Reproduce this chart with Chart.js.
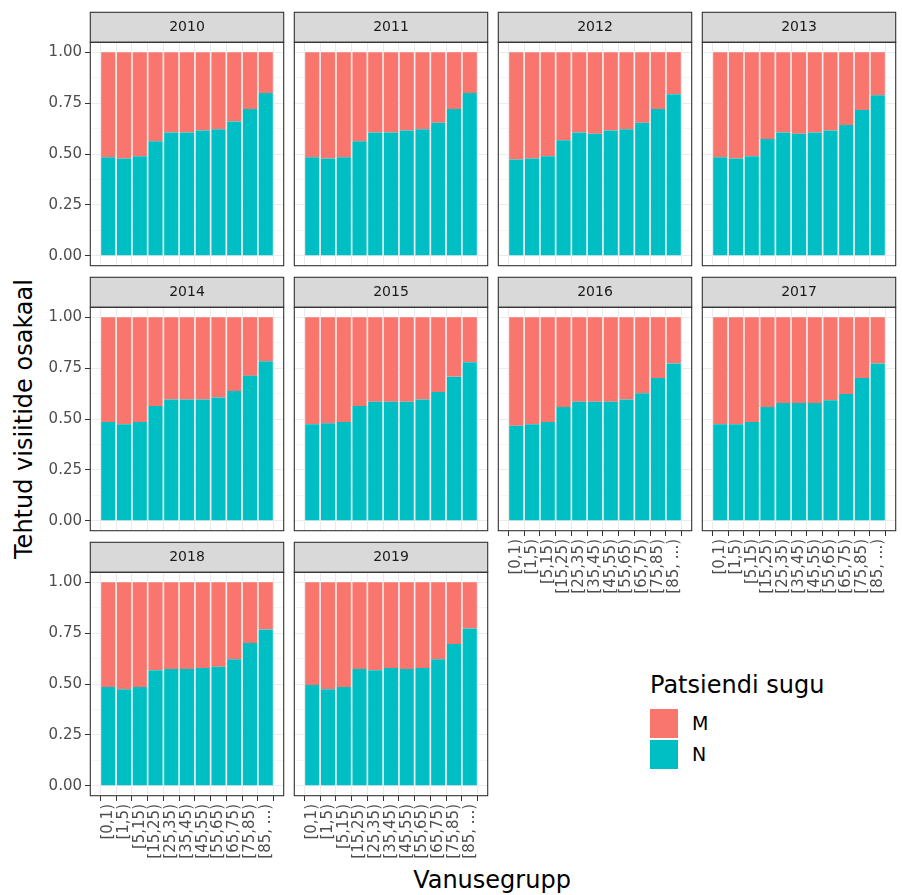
<!DOCTYPE html>
<html>
<head>
<meta charset="utf-8">
<title>Tehtud visiitide osakaal</title>
<script src="https://cdn.jsdelivr.net/npm/chart.js@4.4.1/dist/chart.umd.min.js"></script>
<style>
  html, body { margin: 0; padding: 0; background: #fff; overflow: hidden; width: 902px; height: 895px; }
  body { position: relative; font-family: "DejaVu Sans", sans-serif; }
  canvas { position: absolute; }
  .txt { position: absolute; white-space: nowrap; line-height: 1; color: #000; }
  .key { position: absolute; width: 28px; height: 29px; }
</style>
</head>
<body>
<div class="txt" id="ytitle" style="left:24px; top:419px; font-size:24px; transform: translate(-50%, -50%) rotate(-90deg);">Tehtud visiitide osakaal</div>
<div class="txt" id="xtitle" style="left:492px; top:868px; font-size:24px; transform: translateX(-50%);">Vanusegrupp</div>
<div class="txt" style="left:650px; top:673px; font-size:24px;">Patsiendi sugu</div>
<div class="key" style="left:650px; top:709px; background:#F8766D;"></div>
<div class="key" style="left:650px; top:740px; background:#00BFC4;"></div>
<div class="txt" style="left:692px; top:714px; font-size:19px;">M</div>
<div class="txt" style="left:692px; top:745px; font-size:19px;">N</div>

<script>
// Age groups on the x axis and the facet years
const ageGroups = ['[0,1)', '[1,5)', '[5,15)', '[15,25)', '[25,35)', '[35,45)',
                   '[45,55)', '[55,65)', '[65,75)', '[75,85)', '[85, ...)'];
const years = ['2010', '2011', '2012', '2013', '2014', '2015', '2016', '2017', '2018', '2019'];
const yTicks = [0, 0.25, 0.5, 0.75, 1];

// Share of visits by patient sex (N = naised, M = mehed), per age group
const n2010 = [0.484, 0.478, 0.489, 0.563, 0.605, 0.605, 0.615, 0.622, 0.659, 0.721, 0.799];
const m2010 = [0.516, 0.522, 0.511, 0.437, 0.395, 0.395, 0.385, 0.378, 0.341, 0.279, 0.201];
const n2011 = [0.484, 0.478, 0.484, 0.563, 0.605, 0.605, 0.615, 0.622, 0.653, 0.721, 0.799];
const m2011 = [0.516, 0.522, 0.516, 0.437, 0.395, 0.395, 0.385, 0.378, 0.347, 0.279, 0.201];
const n2012 = [0.473, 0.478, 0.489, 0.568, 0.605, 0.600, 0.615, 0.622, 0.653, 0.721, 0.794];
const m2012 = [0.527, 0.522, 0.511, 0.432, 0.395, 0.400, 0.385, 0.378, 0.347, 0.279, 0.206];
const n2013 = [0.484, 0.478, 0.489, 0.574, 0.605, 0.600, 0.605, 0.615, 0.643, 0.716, 0.788];
const m2013 = [0.516, 0.522, 0.511, 0.426, 0.395, 0.400, 0.395, 0.385, 0.357, 0.284, 0.212];
const n2014 = [0.485, 0.474, 0.485, 0.564, 0.596, 0.596, 0.596, 0.606, 0.637, 0.712, 0.784];
const m2014 = [0.515, 0.526, 0.515, 0.436, 0.404, 0.404, 0.404, 0.394, 0.363, 0.288, 0.216];
const n2015 = [0.474, 0.479, 0.485, 0.564, 0.585, 0.585, 0.585, 0.596, 0.632, 0.708, 0.779];
const m2015 = [0.526, 0.521, 0.515, 0.436, 0.415, 0.415, 0.415, 0.404, 0.368, 0.292, 0.221];
const n2016 = [0.467, 0.474, 0.485, 0.559, 0.585, 0.585, 0.585, 0.596, 0.626, 0.701, 0.773];
const m2016 = [0.533, 0.526, 0.515, 0.441, 0.415, 0.415, 0.415, 0.404, 0.374, 0.299, 0.227];
const n2017 = [0.474, 0.474, 0.485, 0.559, 0.578, 0.578, 0.578, 0.592, 0.623, 0.701, 0.773];
const m2017 = [0.526, 0.526, 0.515, 0.441, 0.422, 0.422, 0.422, 0.408, 0.377, 0.299, 0.227];
const n2018 = [0.485, 0.474, 0.485, 0.567, 0.574, 0.574, 0.578, 0.585, 0.621, 0.701, 0.768];
const m2018 = [0.515, 0.526, 0.515, 0.433, 0.426, 0.426, 0.422, 0.415, 0.379, 0.299, 0.232];
const n2019 = [0.495, 0.474, 0.485, 0.574, 0.567, 0.578, 0.574, 0.578, 0.621, 0.696, 0.773];
const m2019 = [0.505, 0.526, 0.515, 0.426, 0.433, 0.422, 0.426, 0.422, 0.379, 0.304, 0.227];

const shareN = [n2010, n2011, n2012, n2013, n2014, n2015, n2016, n2017, n2018, n2019];
const shareM = [m2010, m2011, m2012, m2013, m2014, m2015, m2016, m2017, m2018, m2019];

const COLOR_M = '#F8766D';
const COLOR_N = '#00BFC4';
const FONT = '"DejaVu Sans", sans-serif';

// Facet grid geometry
const NCOL = 4;
const COL_X = 90, COL_STEP = 204;
const ROW_Y = 12, ROW_STEP = 265;
const PANEL_W = 194, PANEL_H = 224, STRIP_H = 30;
const Y_AXIS_W = 90, X_AXIS_H = 68;
const PAD = 6, PAD_R = 16, PAD_B = 14;

Chart.defaults.font.family = FONT;

// minor grid lines sit half-way between the major y ticks
const yMinor = yTicks.slice(1).map((v, i) => (v + yTicks[i]) / 2);
const yAll = yTicks.concat(yMinor).sort((a, b) => a - b);
const isMajor = v => yTicks.includes(v);

// strip background, panel background and borders
const facetFrame = {
  id: 'facetFrame',
  beforeDraw(chart) {
    const { ctx, chartArea: a } = chart;
    const tb = chart.titleBlock;
    ctx.save();
    ctx.fillStyle = '#FFFFFF';
    ctx.fillRect(a.left, a.top, a.right - a.left, a.bottom - a.top);
    ctx.fillStyle = '#D9D9D9';
    ctx.fillRect(tb.left, tb.top, tb.width, tb.height);
    ctx.restore();
  },
  afterDraw(chart) {
    const { ctx, chartArea: a } = chart;
    const tb = chart.titleBlock;
    ctx.save();
    ctx.strokeStyle = '#333333';
    ctx.lineWidth = 1.1;
    ctx.strokeRect(tb.left + 0.3, tb.top + 0.3, tb.width - 0.6, tb.height);
    ctx.strokeRect(a.left + 0.3, a.top + 0.3, a.right - a.left - 0.6, a.bottom - a.top - 0.6);
    ctx.restore();
  }
};

function makePanel(idx) {
  const col = idx % NCOL;
  const row = Math.floor(idx / NCOL);
  const showY = col === 0;
  const showX = idx + NCOL >= years.length;
  const yw = showY ? Y_AXIS_W : 0;
  const padL = showY ? 0 : PAD;
  const xh = showX ? X_AXIS_H : 0;
  const panelLeft = COL_X + col * COL_STEP;
  const stripTop = ROW_Y + row * ROW_STEP;

  const w = padL + yw + PANEL_W + PAD_R;
  const h = PAD + STRIP_H + PANEL_H + xh + PAD_B;
  const canvas = document.createElement('canvas');
  canvas.width = w;
  canvas.height = h;
  canvas.style.width = w + 'px';
  canvas.style.height = h + 'px';
  canvas.style.left = (panelLeft - yw - padL) + 'px';
  canvas.style.top = (stripTop - PAD) + 'px';
  document.body.appendChild(canvas);

  new Chart(canvas, {
    type: 'bar',
    data: {
      datasets: [
        { label: 'N', data: shareN[idx].map((v, i) => ({ x: i, y: v })), backgroundColor: COLOR_N },
        { label: 'M', data: shareM[idx].map((v, i) => ({ x: i, y: v })), backgroundColor: COLOR_M }
      ]
    },
    options: {
      responsive: false,
      animation: false,
      devicePixelRatio: 1,
      layout: { padding: { left: padL, right: PAD_R, top: PAD, bottom: PAD_B } },
      datasets: { bar: { barPercentage: 0.9, categoryPercentage: 1, borderWidth: 0 } },
      plugins: {
        legend: { display: false },
        tooltip: { enabled: false },
        title: {
          display: true,
          text: years[idx],
          fullSize: false,
          color: '#1A1A1A',
          font: { family: FONT, size: 14, weight: 'normal', lineHeight: 1.2 },
          padding: { top: 6.6, bottom: 6.6 }
        }
      },
      scales: {
        x: {
          type: 'linear',
          stacked: true,
          min: -0.6,
          max: ageGroups.length - 0.4,
          afterBuildTicks: ax => { ax.ticks = ageGroups.map((_, i) => ({ value: i })); },
          afterFit: ax => { ax.height = xh; },
          border: { display: false },
          grid: {
            color: '#EBEBEB',
            lineWidth: 1,
            drawTicks: showX,
            tickLength: 5,
            tickColor: '#333333',
            tickWidth: 1
          },
          ticks: {
            display: showX,
            autoSkip: false,
            minRotation: 90,
            maxRotation: 90,
            padding: 3,
            color: '#4D4D4D',
            font: { family: FONT, size: 15 },
            callback: v => ageGroups[v]
          }
        },
        y: {
          type: 'linear',
          stacked: true,
          min: -0.05,
          max: 1.05,
          afterBuildTicks: ax => { ax.ticks = yAll.map(v => ({ value: v })); },
          afterFit: ax => { ax.width = yw; },
          border: { display: false },
          grid: {
            color: '#EBEBEB',
            lineWidth: c => (c.tick && isMajor(c.tick.value)) ? 1 : 0.5,
            drawTicks: showY,
            tickLength: 5,
            tickColor: c => (c.tick && isMajor(c.tick.value)) ? '#333333' : 'rgba(0,0,0,0)',
            tickWidth: 1
          },
          ticks: {
            display: showY,
            padding: 3,
            color: '#4D4D4D',
            font: { family: FONT, size: 15 },
            callback: v => isMajor(v) ? v.toFixed(2) : ''
          }
        }
      }
    },
    plugins: [facetFrame]
  });
}

years.forEach((_, i) => makePanel(i));
</script>
</body>
</html>
